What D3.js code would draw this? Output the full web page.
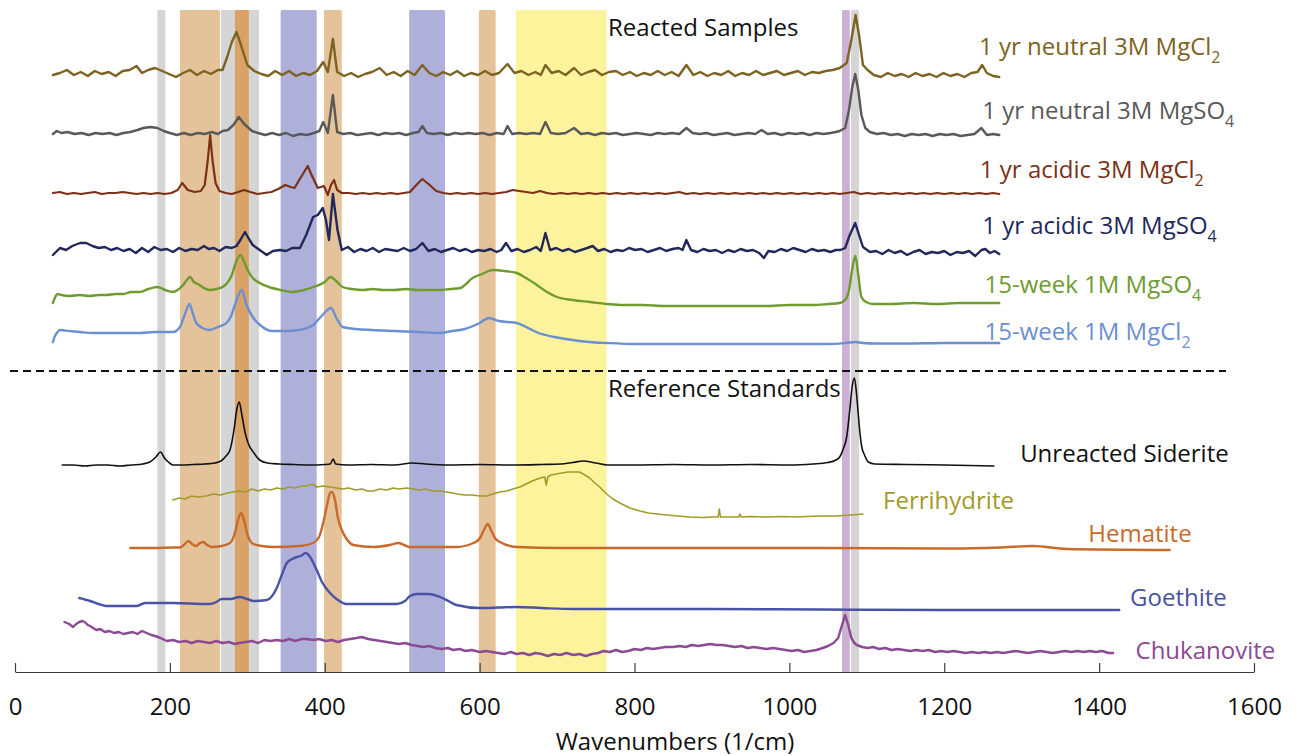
<!DOCTYPE html>
<html>
<head>
<meta charset="utf-8">
<script src="https://cdn.jsdelivr.net/npm/d3@7"></script>
<style>
  body { margin: 0; background: #fff; }
  svg text { font-family: "Open Sans", sans-serif; }
</style>
</head>
<body>
<svg id="chart" width="1302" height="756"></svg>
<script>
// x axis ticks (wavenumbers, 1/cm)
const xTicks = [0, 200, 400, 600, 800, 1000, 1200, 1400, 1600];

// highlighted bands [start, end] in 1/cm
const bandStart = [183.8, 213, 266, 284, 343, 399, 509, 599, 647, 1068, 1079.5];
const bandEnd   = [194.1, 264.7, 315, 302, 389.6, 422, 555.3, 620.7, 764, 1078, 1090];
const bandKind  = ["gray", "tan", "gray", "orange", "blue", "tan", "blue", "tan", "yellow", "purple", "gray"];

// spectra: [wavenumber, stacked intensity (a.u.)]
const neutralMgCl2 = [[49,59.7],[58,59.9],[67,60.2],[76,59.7],[85,60.0],[94,59.6],[103,60.1],[112,59.8],[121,60.0],[130,59.6],[139,60.1],[148,60.2],[157,60.6],[164,59.9],[172,60.2],[181,60.4],[190,60.1],[199,59.8],[208,59.5],[217,59.9],[226,60.2],[235,59.7],[244,60.1],[253,59.8],[262,60.2],[268,60.2],[274,61.5],[280,63.0],[286,64.0],[291,62.9],[300,60.7],[309,60.1],[318,59.8],[327,59.6],[336,60.1],[345,59.7],[354,60.1],[363,59.6],[372,59.9],[381,59.7],[390,60.1],[398,61.0],[404,60.0],[410.5,63.3],[416,60.0],[425,59.6],[434,59.9],[443,59.5],[452,59.8],[461,60.0],[471,60.4],[480,59.7],[489,60.0],[498,59.6],[507,60.1],[516,59.7],[526,60.7],[535,59.9],[544,59.6],[553,60.0],[562,59.7],[571,60.1],[580,59.6],[589,59.9],[598,59.7],[607,60.1],[616,59.7],[625,59.9],[636,60.8],[645,59.9],[654,60.1],[663,59.7],[672,60.0],[679,59.7],[685,60.7],[693,59.9],[702,60.1],[711,59.7],[722,60.4],[731,59.7],[740,60.0],[749,60.2],[758,59.7],[767,60.0],[776,60.1],[785,59.7],[794,60.0],[803,59.6],[812,59.9],[821,59.7],[830,60.1],[839,59.7],[848,60.0],[857,59.6],[867,60.7],[876,59.7],[885,60.0],[894,59.6],[903,59.9],[912,59.7],[921,60.1],[930,59.6],[939,59.9],[948,59.7],[957,60.1],[966,59.7],[975,59.9],[984,60.1],[993,59.7],[1002,59.9],[1011,60.1],[1020,59.7],[1029,60.0],[1038,59.9],[1047,60.1],[1056,60.2],[1065,60.4],[1074,60.9],[1080,63.2],[1085.5,65.7],[1090,63.7],[1095,60.7],[1101,60.2],[1109,59.7],[1118,59.5],[1127,59.9],[1136,59.6],[1145,59.8],[1154,59.5],[1163,59.9],[1172,59.6],[1181,59.8],[1190,59.5],[1199,59.9],[1208,59.6],[1217,59.8],[1226,59.5],[1235,59.9],[1243,60.0],[1249,60.7],[1255,59.9],[1263,59.6],[1271,59.5]];

const neutralMgSO4 = [[49,53.8],[54,54.1],[60,53.9],[68,54.0],[77,53.8],[86,53.9],[95,53.7],[104,53.9],[113,53.8],[122,53.9],[131,53.7],[140,53.9],[149,54.0],[158,54.2],[166,54.4],[175,54.5],[184,54.4],[192,54.1],[200,53.9],[209,53.7],[218,53.9],[227,53.7],[236,53.9],[245,53.8],[254,54.0],[262,53.8],[268,54.1],[275,54.2],[282,54.7],[289,55.5],[296,54.8],[306,54.1],[314,53.9],[323,53.7],[332,53.9],[341,53.7],[350,53.9],[359,53.6],[368,53.8],[377,53.7],[386,53.9],[393,54.1],[398,55.0],[404,53.9],[410.5,57.7],[416,54.0],[424,53.8],[433,53.9],[442,53.7],[451,53.8],[460,53.9],[469,53.7],[478,53.9],[487,53.8],[496,53.9],[505,53.7],[514,53.9],[521,54.0],[526,54.6],[532,53.9],[541,53.8],[550,53.9],[559,53.7],[568,53.9],[577,53.8],[586,53.9],[595,53.8],[604,53.9],[613,53.7],[622,53.9],[631,53.8],[636,54.6],[642,53.8],[651,53.9],[660,53.8],[669,53.9],[678,53.8],[685,55.0],[692,53.9],[701,53.8],[711,53.9],[722,54.4],[731,53.8],[740,53.9],[749,53.7],[758,53.9],[767,53.8],[776,53.9],[785,53.7],[794,53.8],[803,53.9],[812,53.8],[821,53.7],[830,53.9],[839,53.8],[848,53.9],[858,53.8],[867,54.4],[875,53.9],[884,53.8],[893,53.9],[902,53.7],[911,53.8],[920,53.9],[929,53.7],[938,53.8],[947,53.9],[956,53.8],[964,54.2],[972,53.8],[981,53.9],[990,53.7],[999,53.9],[1008,53.8],[1017,53.9],[1026,53.7],[1035,53.9],[1044,53.8],[1053,53.9],[1060,54.0],[1065,54.1],[1072,54.4],[1077,56.2],[1081,58.4],[1085,59.8],[1089,58.2],[1093,55.7],[1098,54.4],[1104,54.0],[1113,53.8],[1122,53.9],[1131,53.7],[1140,53.8],[1149,53.6],[1158,53.8],[1167,53.7],[1176,53.8],[1185,53.6],[1194,53.8],[1203,53.7],[1212,53.8],[1221,53.6],[1230,53.7],[1239,53.8],[1248,54.4],[1255,53.7],[1263,53.8],[1271,53.7]];

const acidicMgCl2 = [[49,47.9],[58,48.0],[67,47.8],[76,47.9],[85,47.8],[94,47.9],[103,48.0],[112,47.8],[121,47.9],[130,47.9],[139,48.0],[148,47.9],[157,47.8],[166,47.9],[175,47.8],[184,47.9],[193,47.8],[202,47.9],[210,48.2],[216,48.9],[223,48.2],[232,48.0],[240,48.1],[245,48.7],[249,51.2],[252,53.7],[255,51.2],[259,48.9],[264,48.1],[272,47.9],[280,47.8],[288,48.0],[296,48.2],[304,48.0],[313,47.8],[322,47.9],[331,48.0],[340,48.3],[349,48.7],[356,48.5],[361,48.4],[367,49.2],[371,49.7],[378,50.6],[383,49.7],[391,48.4],[399,48.6],[404,47.7],[408,48.7],[412,49.2],[416,48.2],[422,47.9],[431,47.9],[440,47.8],[449,47.9],[458,47.8],[467,47.9],[476,47.8],[485,47.9],[494,47.8],[502,47.9],[510,48.0],[517,48.6],[526,49.3],[534,48.8],[544,48.1],[553,47.9],[562,47.8],[571,47.9],[580,47.8],[589,47.9],[598,47.8],[607,47.9],[616,47.8],[625,47.9],[634,48.0],[643,48.2],[651,48.1],[660,48.0],[669,47.9],[678,48.1],[687,47.9],[696,47.8],[705,47.9],[714,47.8],[723,47.9],[732,47.8],[741,47.9],[750,47.8],[759,47.9],[768,47.8],[777,47.9],[786,47.8],[795,47.9],[804,47.8],[813,47.9],[822,47.8],[831,47.9],[840,47.8],[849,47.9],[858,48.0],[867,47.8],[876,47.9],[885,47.8],[894,47.9],[903,47.8],[912,47.9],[921,47.8],[930,47.9],[939,47.8],[948,47.9],[957,47.8],[966,47.9],[975,47.8],[984,47.9],[993,47.8],[1002,47.9],[1011,47.8],[1020,47.9],[1029,47.8],[1038,47.9],[1047,47.8],[1056,47.9],[1065,47.8],[1074,47.9],[1083,48.0],[1092,47.8],[1101,47.9],[1110,47.8],[1119,47.9],[1128,47.8],[1137,47.9],[1146,47.8],[1155,47.9],[1164,47.8],[1173,47.9],[1182,47.8],[1191,47.9],[1200,47.8],[1209,47.9],[1218,47.8],[1227,47.9],[1236,47.8],[1245,47.9],[1254,47.8],[1263,47.9],[1271,47.8]];

const acidicMgSO4 = [[49,41.7],[58,42.4],[66,42.2],[74,42.6],[84,42.9],[92,42.9],[100,42.6],[108,42.4],[116,42.5],[124,42.2],[132,42.4],[140,42.1],[148,42.3],[156,41.9],[164,42.4],[172,42.0],[180,42.5],[188,42.2],[196,42.3],[204,42.0],[212,42.4],[220,42.1],[228,42.3],[236,42.2],[244,42.6],[250,42.3],[257,42.4],[264,42.1],[272,42.5],[280,42.4],[286,42.6],[291,43.2],[297,44.0],[303,43.2],[307,42.7],[316,42.2],[325,41.7],[333,42.1],[342,42.2],[350,42.1],[358,42.4],[368,42.4],[376,43.7],[385,45.5],[391,45.7],[397.5,46.4],[401.5,45.2],[405.5,43.2],[410.5,47.8],[416.5,44.2],[422,42.2],[430,42.5],[438,42.0],[446,42.3],[454,42.1],[462,42.4],[470,42.0],[478,42.3],[486,42.2],[494,42.1],[502,42.4],[510,42.1],[518,42.3],[526,42.9],[534,42.1],[542,42.3],[550,42.0],[558,42.2],[566,42.4],[574,42.1],[582,42.3],[590,42.0],[598,42.2],[606,42.1],[614,42.3],[622,42.0],[628,42.2],[634,42.9],[641,42.1],[649,42.3],[657,42.0],[665,42.2],[673,42.5],[679,42.1],[685,43.9],[691,42.2],[699,42.4],[707,42.1],[715,42.3],[723,42.0],[731,42.2],[739,42.4],[746,42.6],[753,42.1],[761,42.3],[769,42.0],[777,42.2],[785,42.1],[793,42.4],[801,42.2],[809,42.3],[817,42.0],[825,42.2],[833,42.4],[841,42.1],[849,42.3],[857,42.4],[862,42.2],[867,43.2],[873,42.2],[881,42.0],[889,42.3],[897,42.1],[905,42.2],[913,41.9],[921,42.2],[929,42.0],[937,42.3],[945,42.1],[953,42.2],[961,41.9],[967,41.4],[973,42.1],[981,42.0],[989,42.3],[997,42.1],[1005,42.4],[1013,42.2],[1021,42.0],[1029,42.3],[1037,42.1],[1045,42.2],[1053,42.0],[1060,42.2],[1066,42.2],[1072,42.4],[1078,43.7],[1085,44.9],[1090,43.7],[1095,42.5],[1104,42.0],[1112,42.1],[1120,41.8],[1128,42.2],[1136,41.9],[1144,42.1],[1152,41.7],[1160,42.0],[1168,42.2],[1176,41.8],[1184,42.0],[1192,41.9],[1200,42.1],[1208,41.7],[1216,42.0],[1224,41.9],[1232,42.1],[1240,41.6],[1248,42.2],[1253,42.3],[1259,41.9],[1265,42.1],[1271,41.8]];

const week15MgSO4 = [[49,36.9],[52,37.5],[55,37.8],[60,37.7],[70,37.6],[84,37.7],[96,37.6],[108,37.7],[118,37.7],[130,37.8],[140,37.8],[150,38.0],[161,38.0],[172,38.3],[184,38.5],[194,38.2],[204,38.0],[210,38.2],[216,38.6],[222,39.2],[226,39.5],[231,39.0],[236,38.8],[244,38.4],[251,38.2],[260,38.3],[268,38.5],[275,39.0],[280,39.7],[285,40.9],[291,41.7],[296,41.0],[301,40.1],[307,39.4],[316,38.9],[328,38.5],[343,38.2],[358,38.0],[373,38.2],[389,38.6],[400,39.0],[407.5,39.5],[416,39.0],[423,38.5],[435,38.3],[450,38.2],[462,38.3],[475,38.2],[490,38.2],[505,38.3],[520,38.2],[535,38.2],[548,38.2],[562,38.3],[575,38.4],[591,39.4],[603,39.8],[617,40.2],[632,40.1],[648,39.9],[660,39.4],[674,38.7],[687,38.0],[700,37.5],[720,37.2],[742,37.0],[765,36.8],[785,36.7],[810,36.7],[840,36.6],[870,36.6],[900,36.6],[935,36.6],[970,36.6],[1000,36.7],[1030,36.7],[1050,36.8],[1065,36.9],[1073,37.3],[1077,38.2],[1081,40.2],[1085,41.6],[1089,39.7],[1093,37.5],[1099,37.0],[1108,36.8],[1130,36.8],[1160,36.9],[1190,36.8],[1220,36.9],[1250,36.9],[1271,36.9]];

const week15MgCl2 = [[49,33.0],[51,33.5],[54,33.9],[58,34.2],[70,34.1],[84,34.0],[100,33.9],[118,33.9],[140,33.9],[161,33.9],[180,34.0],[194,34.0],[204,34.0],[213,34.5],[219,35.7],[225.4,36.8],[229,36.0],[234,34.9],[242,34.4],[251,34.2],[262,34.5],[273,34.9],[279,35.6],[284,36.7],[292.7,38.2],[299,36.7],[307,35.5],[318,34.6],[332,34.1],[350,34.1],[367,34.2],[385,34.7],[396,35.6],[408,36.4],[415,35.4],[423,34.5],[440,34.3],[461,34.2],[490,34.1],[520,34.0],[548,33.9],[565,34.1],[581,34.3],[600,34.9],[612,35.4],[625,35.1],[636,35.0],[648,34.9],[660,34.5],[676,33.9],[697,33.5],[720,33.2],[742,33.0],[764,32.9],[800,32.8],[850,32.8],[900,32.8],[950,32.8],[980,32.8],[1020,32.8],[1050,32.8],[1072,32.9],[1085,33.0],[1095,32.9],[1110,32.85],[1150,32.85],[1200,32.9],[1240,32.9],[1271,32.9]];

const siderite = [[61,20.7],[75,20.7],[90,20.6],[105,20.7],[120,20.7],[135,20.6],[150,20.7],[165,20.8],[174,21.0],[182,21.5],[188,22.0],[193,21.4],[198,21.0],[204,20.7],[215,20.7],[230,20.75],[245,20.8],[258,20.9],[266,21.1],[272.5,21.6],[277.6,22.2],[282.8,24.2],[286.5,26.3],[289.6,27.0],[293,25.7],[297,24.0],[301,22.9],[308.6,21.9],[316,21.2],[326,20.9],[341,20.8],[360,20.75],[380,20.7],[400,20.75],[407,20.8],[411,21.3],[414,20.8],[430,20.7],[460,20.75],[490,20.7],[513,20.9],[530,20.8],[560,20.7],[600,20.75],[640,20.7],[680,20.75],[705,20.8],[720,20.95],[734,21.1],[750,20.9],[765,20.7],[800,20.7],[850,20.75],[900,20.7],[950,20.75],[1000,20.7],[1030,20.8],[1050,20.95],[1060,21.2],[1065,21.5],[1070,22.4],[1074,23.5],[1078,26.2],[1081,28.5],[1084,29.4],[1086.5,28.0],[1088.5,26.2],[1091,24.0],[1093.5,22.5],[1097,21.7],[1102,21.0],[1110,20.8],[1150,20.75],[1200,20.7],[1264,20.6]];

const ferrihydrite = [[204,17.2],[212,17.4],[220,17.3],[228,17.6],[236,17.5],[247,17.6],[256,17.8],[265,17.7],[274,17.9],[282,18.0],[290,18.1],[298,18.0],[306,18.3],[314,18.1],[322,18.3],[330,18.2],[338,18.4],[346,18.3],[354,18.5],[362,18.4],[370,18.6],[377,18.6],[384,18.8],[390,18.5],[398,18.6],[407,18.5],[415,18.4],[423,18.3],[431,18.4],[440,18.2],[448,18.3],[455,18.1],[463,18.1],[471,18.3],[480,18.2],[488,18.4],[496,18.3],[506,18.4],[514,18.3],[522,18.2],[530,18.3],[540,18.1],[549,18.1],[557,18.0],[565,17.9],[571,17.8],[580,17.7],[590,17.7],[600,17.6],[609,17.6],[617,17.8],[626,18.0],[635,18.1],[643,18.3],[652,18.5],[660,18.8],[668,19.1],[678,19.4],[684,19.5],[686,18.7],[688,19.5],[692,19.7],[699,19.8],[706,19.9],[714,20.0],[721,20.0],[729,20.0],[736,19.7],[742,19.4],[749,18.9],[755,18.5],[764,17.8],[772,17.3],[781,16.9],[794,16.4],[807,16.1],[818,15.9],[829,15.8],[842,15.7],[856,15.6],[872,15.5],[888,15.45],[900,15.5],[908,15.5],[909.5,16.3],[911,15.5],[920,15.5],[935,15.5],[936,15.8],[938,15.5],[950,15.55],[970,15.5],[990,15.55],[1010,15.5],[1022,15.55],[1040,15.6],[1060,15.6],[1080,15.7],[1095,15.8]];

const hematite = [[149,12.4],[180,12.4],[205,12.45],[213,12.45],[218,12.7],[223.8,13.1],[228.6,12.8],[233.7,12.6],[238.9,12.9],[243.2,13.0],[248,12.7],[254,12.5],[267,12.6],[277.6,12.9],[284,13.9],[288,15.2],[292.2,15.9],[295.7,15.2],[299.6,13.9],[307.7,12.8],[319,12.6],[333.5,12.5],[368,12.6],[385,12.9],[392.6,13.5],[398,14.9],[403,16.7],[406.8,17.9],[409.3,18.0],[413.2,17.2],[417,15.4],[422,14.2],[427.4,13.4],[436.8,12.7],[462.7,12.5],[484,12.7],[495,12.9],[502.3,12.7],[510,12.5],[570,12.5],[592,12.9],[600.5,13.4],[605.6,14.2],[610.4,14.8],[614.7,14.2],[619.8,13.4],[626.3,13.0],[648,12.5],[704,12.4],[850,12.4],[1040,12.4],[1207,12.35],[1272,12.45],[1314,12.6],[1358,12.3],[1491,12.2]];

const goethite = [[83,7.4],[97,7.1],[108,6.8],[118,6.6],[140,6.6],[157,6.6],[164,6.8],[168,6.9],[187,6.9],[204,6.9],[226,6.85],[252,6.8],[260,7.0],[267,7.3],[278,7.3],[290,7.5],[300,7.3],[308,7.1],[325,7.2],[332,7.6],[338,8.4],[344,9.6],[351,10.9],[358,11.3],[364,11.5],[369,11.6],[375.4,11.9],[381,11.5],[389.6,10.2],[396.4,9.0],[406.8,7.9],[417,7.2],[428,6.8],[460,6.8],[493,6.8],[503.6,7.1],[510,7.6],[520,7.8],[534,7.8],[549,7.5],[562,7.0],[570,6.7],[600,6.4],[625,6.45],[648,6.5],[680,6.4],[721,6.3],[800,6.3],[900,6.3],[1040,6.25],[1200,6.2],[1426,6.2]];

const chukanovite = [[64,5.0],[70,4.8],[75,4.5],[79,4.8],[83,5.0],[87,5.1],[90,5.0],[94,4.7],[97,4.6],[101,4.4],[105,4.2],[110,4.3],[116,4.0],[122,4.1],[128,3.9],[134,4.0],[140,3.8],[146,3.9],[152,4.0],[158,3.8],[164,4.1],[170,3.9],[176,3.7],[181,3.6],[188,3.4],[196,3.1],[204,3.2],[212,3.0],[220,3.1],[228,2.9],[236,3.1],[244,3.0],[252,2.9],[260,3.1],[268,2.9],[276,3.0],[284,2.8],[290,2.9],[298,3.0],[306,3.1],[314,2.9],[322,3.2],[330,3.1],[338,3.2],[346,3.1],[354,3.3],[362,3.1],[370,3.3],[377,3.3],[385,3.2],[393,3.3],[401,3.1],[409,3.2],[417,3.0],[425,3.2],[433,3.3],[441,3.4],[448,3.5],[456,3.3],[464,3.2],[472,3.1],[480,3.0],[488,2.9],[496,2.8],[504,2.9],[512,2.7],[520,2.6],[527,2.5],[535,2.6],[543,2.4],[551,2.3],[559,2.4],[566,2.2],[574,2.3],[582,2.1],[590,2.2],[600,2.0],[608,2.1],[616,2.0],[624,1.9],[632,1.8],[640,2.0],[648,1.8],[656,1.9],[664,1.7],[672,1.9],[680,1.8],[688,1.6],[696,1.8],[704,1.7],[712,1.9],[721,1.7],[729,1.8],[737,1.6],[745,1.8],[753,1.9],[760,2.1],[768,2.0],[776,2.2],[784,2.0],[792,2.1],[800,2.3],[808,2.2],[816,2.4],[824,2.3],[832,2.4],[840,2.5],[850,2.5],[858,2.6],[866,2.5],[874,2.7],[882,2.6],[890,2.7],[898,2.8],[906,2.7],[914,2.7],[922,2.6],[930,2.5],[938,2.6],[946,2.4],[954,2.5],[962,2.4],[970,2.3],[979,2.4],[987,2.3],[995,2.2],[1003,2.1],[1011,2.2],[1019,2.0],[1027,2.1],[1035,2.2],[1043,2.4],[1050,2.6],[1057,2.9],[1063,3.4],[1068,4.7],[1072,5.7],[1076,4.7],[1080,3.4],[1084,2.9],[1087,2.7],[1094,2.5],[1101,2.4],[1108,2.5],[1116,2.3],[1124,2.4],[1132,2.2],[1140,2.3],[1148,2.2],[1156,2.1],[1164,2.2],[1172,2.1],[1180,2.2],[1188,2.0],[1196,2.1],[1204,2.0],[1212,2.1],[1220,2.0],[1228,1.9],[1236,2.0],[1244,1.9],[1252,2.0],[1260,1.9],[1268,2.0],[1276,1.9],[1284,2.0],[1292,2.1],[1300,2.0],[1308,1.9],[1316,2.0],[1324,2.1],[1332,2.0],[1340,1.9],[1348,2.0],[1356,2.1],[1364,2.0],[1372,2.1],[1380,2.0],[1388,2.1],[1396,2.0],[1404,2.1],[1412,1.9],[1418,1.9]];

// series names (main text + subscript)
const seriesName = ["1 yr neutral 3M MgCl", "1 yr neutral 3M MgSO", "1 yr acidic 3M MgCl", "1 yr acidic 3M MgSO",
  "15-week 1M MgSO", "15-week 1M MgCl", "Unreacted Siderite", "Ferrihydrite", "Hematite", "Goethite", "Chukanovite"];
const seriesSub = ["2", "4", "2", "4", "4", "2", "", "", "", "", ""];
const seriesData = [neutralMgCl2, neutralMgSO4, acidicMgCl2, acidicMgSO4, week15MgSO4, week15MgCl2,
  siderite, ferrihydrite, hematite, goethite, chukanovite];

// ---- styling / layout ----
const seriesColor = ["#7d6322", "#595959", "#7b3117", "#22285a", "#6f9b2f", "#6b8fd0",
  "#111111", "#a29a29", "#c96a2b", "#4952a5", "#8b4a93"];
const seriesWidth = [2.4, 2.4, 2.2, 2.4, 2.4, 2.4, 1.6, 1.6, 2.4, 2.4, 2.4];
const seriesSmooth = [false, false, false, false, true, true, true, false, true, true, false];
// label anchor in data coords [wavenumber, intensity]
const labelAt = [[1245, 61.7], [1249, 55.3], [1246, 49.4], [1249, 43.8], [1252, 37.9], [1252, 33.2],
  [1298, 21.0], [1121, 16.3], [1386, 13.0], [1440, 6.6], [1447, 1.3]];

const bandColor = { gray: "#d5d5d5", tan: "#e5c39a", orange: "#d9a368", blue: "#afb0d9", yellow: "#fdf39d", purple: "#ccb1d5" };

const svg = d3.select('#chart');
const x = d3.scaleLinear().domain([0, 1600]).range([15, 1254]);
const y = d3.scaleLinear().domain([0, 66]).range([672, 12]);

// shaded bands
svg.append('g').selectAll('rect')
  .data(bandStart.map((s, i) => ({ s, e: bandEnd[i], k: bandKind[i] })))
  .join('rect')
  .attr('x', d => x(d.s))
  .attr('width', d => x(d.e) - x(d.s))
  .attr('y', 10)
  .attr('height', 663)
  .attr('rx', 1.5)
  .attr('fill', d => bandColor[d.k]);

// separator between reacted samples and standards
svg.append('line')
  .attr('x1', 10).attr('x2', 1226)
  .attr('y1', 371).attr('y2', 371)
  .attr('stroke', '#111').attr('stroke-width', 2)
  .attr('stroke-dasharray', '8,5');

// spectra
const line = d3.line().x(d => x(d[0])).y(d => y(d[1]));
const lineSmooth = d3.line().x(d => x(d[0])).y(d => y(d[1])).curve(d3.curveMonotoneX);
svg.append('g').selectAll('path')
  .data(seriesData)
  .join('path')
  .attr('d', (d, i) => (seriesSmooth[i] ? lineSmooth : line)(d))
  .attr('fill', 'none')
  .attr('stroke', (d, i) => seriesColor[i])
  .attr('stroke-width', (d, i) => seriesWidth[i])
  .attr('stroke-linejoin', 'round')
  .attr('stroke-linecap', 'round');

// labels
const labels = svg.append('g').selectAll('text')
  .data(seriesName)
  .join('text')
  .attr('x', (d, i) => x(labelAt[i][0]))
  .attr('y', (d, i) => y(labelAt[i][1]))
  .attr('fill', (d, i) => seriesColor[i])
  .attr('font-size', 24);
labels.append('tspan').text(d => d);
labels.filter((d, i) => seriesSub[i] !== '')
  .append('tspan')
  .attr('dy', 8)
  .attr('font-size', 16)
  .text(d => seriesSub[seriesName.indexOf(d)]);

// section titles
svg.append('text').attr('x', 608).attr('y', 36).attr('font-size', 24).attr('fill', '#111').text('Reacted Samples');
svg.append('text').attr('x', 608).attr('y', 397).attr('font-size', 24).attr('fill', '#111').text('Reference Standards');

// x axis
const axis = svg.append('g')
  .attr('transform', 'translate(0,672)')
  .call(d3.axisBottom(x).tickValues(xTicks).tickFormat(d3.format('d'))
    .tickSizeInner(-9).tickSizeOuter(0).tickPadding(26));
axis.select('.domain').attr('stroke', '#3c3c3c').attr('stroke-width', 1.2);
axis.selectAll('.tick line').attr('stroke', '#3c3c3c').attr('stroke-width', 1.2);
axis.selectAll('.tick text')
  .attr('font-size', 24)
  .attr('font-family', '"Open Sans", sans-serif')
  .attr('fill', '#111');

svg.append('text')
  .attr('x', 675).attr('y', 750)
  .attr('text-anchor', 'middle')
  .attr('font-size', 24)
  .attr('fill', '#111')
  .text('Wavenumbers (1/cm)');
</script>
</body>
</html>
